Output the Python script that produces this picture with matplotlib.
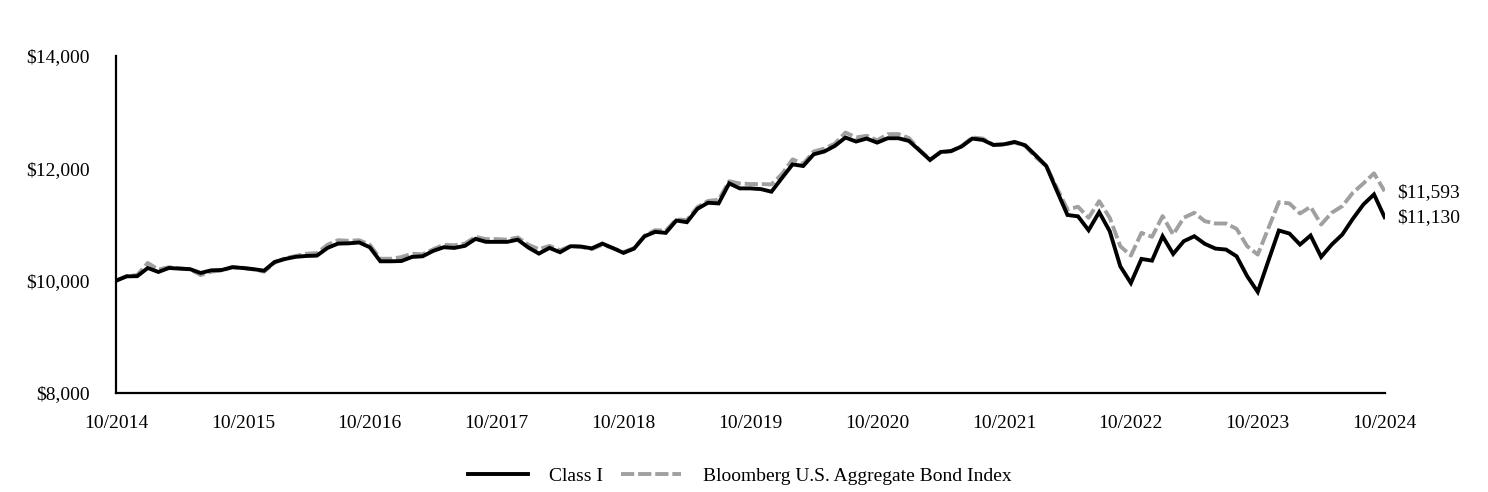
import matplotlib
matplotlib.use("Agg")
import matplotlib.pyplot as plt
from matplotlib.ticker import FuncFormatter

# === DATA (month-end values, 10/2014 .. 10/2024) ===
class_i = [
    10000, 10077, 10080, 10226, 10155, 10226, 10215, 10205, 10137, 10184,
    10190, 10240, 10225, 10205, 10178, 10333, 10387, 10425, 10440, 10446,
    10583, 10660, 10665, 10680, 10595, 10345, 10345, 10350, 10423, 10434,
    10530, 10595, 10583, 10620, 10744, 10691, 10691, 10691, 10730, 10590,
    10482, 10583, 10506, 10613, 10607, 10575, 10660, 10580, 10494, 10571,
    10791, 10869, 10851, 11071, 11041, 11280, 11387, 11375, 11732, 11643,
    11643, 11630, 11584, 11830, 12071, 12041, 12250, 12300, 12400, 12548,
    12477, 12530, 12458, 12536, 12536, 12488, 12320, 12148, 12291, 12309,
    12390, 12530, 12505, 12416, 12428, 12470, 12410, 12230, 12041, 11600,
    11170, 11145, 10898, 11220, 10880, 10255, 9958, 10387, 10357, 10791,
    10476, 10702, 10791, 10655, 10571, 10554, 10434, 10080, 9800, 10350,
    10893, 10839, 10643, 10804, 10423, 10643, 10821, 11102, 11357, 11536,
    11130,
]
bond_index = [
    10000, 10080, 10100, 10315, 10200, 10240, 10220, 10200, 10100, 10160,
    10180, 10240, 10230, 10200, 10160, 10320, 10400, 10440, 10480, 10490,
    10640, 10720, 10710, 10720, 10640, 10390, 10390, 10420, 10480, 10470,
    10560, 10640, 10630, 10660, 10780, 10740, 10740, 10730, 10770, 10640,
    10560, 10620, 10540, 10620, 10600, 10560, 10640, 10580, 10510, 10580,
    10800, 10900, 10890, 11090, 11080, 11310, 11420, 11440, 11770, 11730,
    11720, 11720, 11714, 11900, 12160, 12080, 12300, 12350, 12440, 12637,
    12550, 12580, 12500, 12607, 12610, 12540, 12330, 12160, 12280, 12300,
    12400, 12550, 12530, 12420, 12420, 12460, 12400, 12200, 12040, 11650,
    11268, 11316, 11120, 11416, 11120, 10613, 10446, 10851, 10780, 11149,
    10821, 11120, 11209, 11059, 11018, 11018, 10923, 10613, 10464, 10930,
    11398, 11375, 11196, 11316, 11000, 11209, 11327, 11566, 11732, 11911,
    11593,
]
tick_labels = ["10/2014", "10/2015", "10/2016", "10/2017", "10/2018", "10/2019",
               "10/2020", "10/2021", "10/2022", "10/2023", "10/2024"]
y_ticks = [8000, 10000, 12000, 14000]

# === STYLE ===
plt.rcParams["font.family"] = ["Liberation Serif", "DejaVu Serif"]
FS = 14

months = list(range(len(class_i)))

fig = plt.figure(figsize=(14.88, 4.92), dpi=100)
ax = fig.add_axes([0.078, 0.2012, 0.8525, 0.685])

ax.plot(months, bond_index, color="#a0a0a0", lw=2.8, dashes=(3.4, 1.0),
        label="Bloomberg U.S. Aggregate Bond Index", solid_joinstyle="miter")
ax.plot(months, class_i, color="black", lw=2.8, label="Class I",
        solid_joinstyle="miter")

ax.set_xlim(0, 120)
ax.set_ylim(8000, 14000)
ax.set_xticks(list(range(0, 121, 12)))
ax.set_xticklabels(tick_labels)
ax.set_yticks(y_ticks)
ax.yaxis.set_major_formatter(FuncFormatter(lambda v, p: f"${v:,.0f}"))
ax.tick_params(axis="both", length=0, labelsize=FS)
ax.tick_params(axis="x", pad=16)
ax.tick_params(axis="y", pad=19)

for s in ["top", "right"]:
    ax.spines[s].set_visible(False)
for s in ["left", "bottom"]:
    ax.spines[s].set_linewidth(1.6)

# end-value labels
ax.annotate(f"${bond_index[-1]:,.0f}", xy=(months[-1], bond_index[-1]),
            xytext=(9, -1), textcoords="offset points", ha="left", va="center",
            fontsize=FS, annotation_clip=False)
ax.annotate(f"${class_i[-1]:,.0f}", xy=(months[-1], class_i[-1]),
            xytext=(9, 0), textcoords="offset points", ha="left", va="center",
            fontsize=FS, annotation_clip=False)

handles, labels = ax.get_legend_handles_labels()
fig.legend(handles[::-1], labels[::-1], loc="center", bbox_to_anchor=(0.497, 0.033),
           ncol=2, frameon=False, fontsize=FS, handlelength=3.1,
           handletextpad=1.1, columnspacing=0.9)

fig.savefig("out.png", dpi=100)
